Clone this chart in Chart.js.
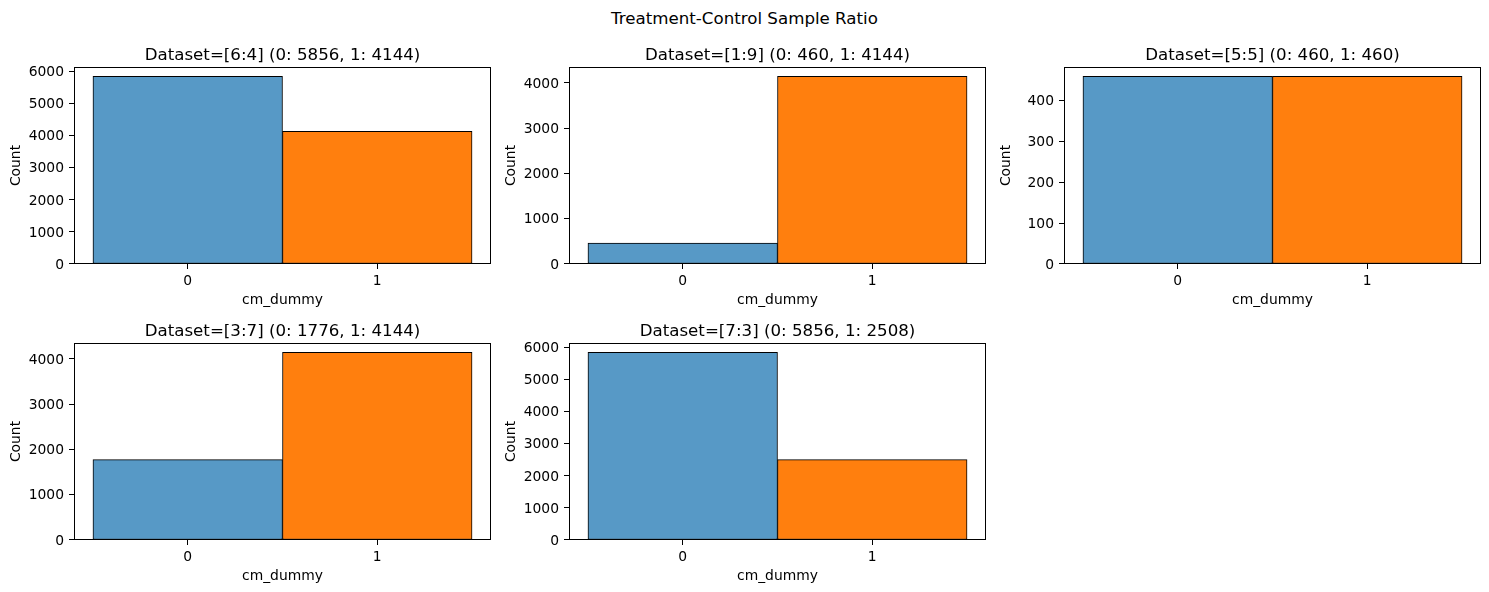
<!DOCTYPE html>
<html><head><meta charset="utf-8">
<script src="https://cdn.jsdelivr.net/npm/chart.js@4"></script>
<style>
html,body{margin:0;padding:0;background:#fff;overflow:hidden;width:1489px;height:592px;position:relative;}
#sup{position:absolute;left:0;width:1489px;top:9px;text-align:center;font-family:'DejaVu Sans';font-size:16.67px;line-height:20px;color:#000;}
canvas{position:absolute;}
</style></head><body>
<div id="sup">Treatment-Control Sample Ratio</div>
<script>
// ---- data ----
const panelNames = ['[6:4]', '[1:9]', '[5:5]', '[3:7]', '[7:3]'];
const categories = [0, 1];
const xTickLabels = ['0', '1'];
const controlCounts = [5856, 460, 460, 1776, 5856];
const treatmentCounts = [4144, 4144, 460, 4144, 2508];
const yTicks64 = [0, 1000, 2000, 3000, 4000, 5000, 6000];
const yTicks19 = [0, 1000, 2000, 3000, 4000];
const yTicks55 = [0, 100, 200, 300, 400];
const yTicks37 = [0, 1000, 2000, 3000, 4000];
const yTicks73 = [0, 1000, 2000, 3000, 4000, 5000, 6000];
const yTickSets = [yTicks64, yTicks19, yTicks55, yTicks37, yTicks73];
const barColors = ['#5799c6', '#ff7f0e'];

// ---- layout ----
const axLeft = [74, 569, 1064, 74, 569];
const axTop = [67, 67, 67, 343, 343];
const AXW = 417, AXH = 197, ML = 74, MT = 27, MB = 51;

const FONT = 'DejaVu Sans';
const tickFont = {family: FONT, size: 13.89};
const titleFont = {family: FONT, size: 16.67, weight: 'normal'};

const spines = {
  id: 'spines',
  afterDatasetsDraw(chart) {
    const {left, top, right, bottom} = chart.chartArea;
    const ctx = chart.ctx;
    ctx.save();
    ctx.strokeStyle = '#000';
    ctx.lineWidth = 1;
    ctx.strokeRect(Math.round(left) + 0.5, Math.round(top) + 0.5,
                   Math.round(right) - Math.round(left) - 1, Math.round(bottom) - Math.round(top) - 1);
    ctx.restore();
  }
};

panelNames.forEach((name, i) => {
  const cv = document.createElement('canvas');
  cv.width = AXW + 2 * ML;
  cv.height = MT + AXH + MB;
  cv.style.left = (axLeft[i] - ML) + 'px';
  cv.style.top = (axTop[i] - MT) + 'px';
  cv.style.width = cv.width + 'px';
  cv.style.height = cv.height + 'px';
  document.body.appendChild(cv);
  const vals = [controlCounts[i], treatmentCounts[i]];
  const ymax = Math.max(...vals) * 1.05;
  const ticks = yTickSets[i];
  new Chart(cv, {
    type: 'bar',
    data: {
      datasets: [{
        data: categories.map((c, k) => ({x: c, y: vals[k]})),
        backgroundColor: barColors,
        borderColor: '#000',
        borderWidth: 1,
        borderSkipped: false,
        barPercentage: 1,
        categoryPercentage: 1
      }]
    },
    options: {
      responsive: false,
      animation: false,
      devicePixelRatio: 1,
      layout: {padding: 0},
      plugins: {
        legend: {display: false},
        tooltip: {enabled: false},
        title: {
          display: true,
          text: 'Dataset=' + name + ' (0: ' + controlCounts[i] + ', 1: ' + treatmentCounts[i] + ')',
          font: titleFont, color: '#000',
          padding: {top: 6, bottom: 1}
        }
      },
      scales: {
        x: {
          type: 'linear', min: -0.6, max: 1.6, offset: false,
          afterBuildTicks: s => { s.ticks = categories.map(v => ({value: v})); },
          afterFit: s => { s.height = MB; },
          ticks: {
            callback: v => xTickLabels[categories.indexOf(v)],
            font: tickFont, color: '#000', padding: 4, maxRotation: 0, autoSkip: false
          },
          grid: {offset: false, drawOnChartArea: false, drawTicks: true, tickLength: 5, color: '#000', lineWidth: 1},
          border: {display: false},
          title: {display: true, text: 'cm_dummy', font: tickFont, color: '#000', padding: {top: 0, bottom: 6}}
        },
        y: {
          type: 'linear', min: 0, max: ymax,
          afterBuildTicks: s => { s.ticks = ticks.map(v => ({value: v})); },
          afterFit: s => { s.width = ML; },
          ticks: {callback: v => String(v), font: tickFont, color: '#000', padding: 5, autoSkip: false, labelOffset: 1},
          grid: {drawOnChartArea: false, drawTicks: true, tickLength: 5, color: '#000', lineWidth: 1},
          border: {display: false},
          title: {display: true, text: 'Count', font: tickFont, color: '#000', padding: {top: 8, bottom: 0}}
        },
        yRight: {
          type: 'linear', position: 'right', min: 0, max: 1,
          afterFit: s => { s.width = ML; },
          ticks: {display: false},
          grid: {display: false, drawTicks: false},
          border: {display: false}
        }
      }
    },
    plugins: [spines]
  });
});
</script>
</body></html>
